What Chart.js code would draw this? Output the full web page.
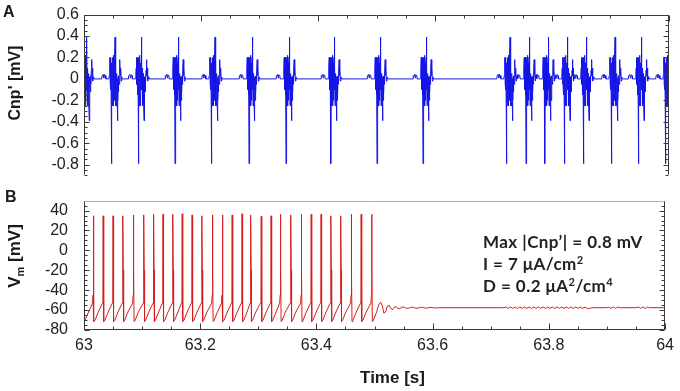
<!DOCTYPE html>
<html><head><meta charset="utf-8">
<script src="https://cdn.jsdelivr.net/npm/chart.js@4.4.0/dist/chart.umd.min.js"></script>
<style>
html,body{margin:0;padding:0;background:#fff;}
#wrap{position:relative;width:680px;height:391px;overflow:hidden;background:#fff;font-family:"Liberation Sans",Arial,sans-serif;color:#1a1a1a;}
canvas{position:absolute;left:0;}
#cA{top:0;width:680px;height:190px;}
#cB{top:175px;width:680px;height:216px;}
.lbl{position:absolute;font-weight:bold;white-space:nowrap;line-height:1;}
.rot{transform:translate(-50%,-50%) rotate(-90deg);}
#note{position:absolute;left:483px;top:231px;font-family:Lato,sans-serif;font-weight:bold;font-size:17px;line-height:22px;color:#222;white-space:nowrap;letter-spacing:0.45px;}
#note sup{font-size:11px;line-height:0;vertical-align:6px;}
</style></head><body>
<div id="wrap">
<canvas id="cA" width="680" height="190"></canvas>
<canvas id="cB" width="680" height="216"></canvas>
<div class="lbl" style="left:3px;top:4px;font-size:16px;">A</div>
<div class="lbl" style="left:5px;top:189px;font-size:16px;">B</div>
<div class="lbl rot" style="left:14.5px;top:82.5px;font-size:16px;">Cnp' [mV]</div>
<div class="lbl rot" style="left:14px;top:256px;font-size:17px;">V<span style="font-size:11px;position:relative;top:4px;">m</span> [mV]</div>
<div class="lbl" style="left:392.5px;top:377px;transform:translate(-50%,-50%);font-size:17px;">Time [s]</div>
<div id="note">Max |Cnp’| = 0.8 mV<br>I = 7 μA/cm<sup>2</sup><br>D = 0.2 μA<sup>2</sup>/cm<sup>4</sup></div>
</div>
<script>
// ---------------- data ----------------
const timeTicks = [63, 63.2, 63.4, 63.6, 63.8, 64];
const timeTickLabels = ['63', '63.2', '63.4', '63.6', '63.8', '64'];
const cnpTicks = [0.6, 0.4, 0.2, 0, -0.2, -0.4, -0.6, -0.8];
const vmTicks = [40, 20, 0, -20, -40, -60, -80];

// Panel A: time (s) of the large negative deflection of each Cnp' burst
const cnpBurstTimes = [62.9992, 63.0474, 63.0928, 63.1556, 63.2183, 63.2821, 63.3453, 63.4222, 63.5009, 63.5795,
  63.7226, 63.7556, 63.7880, 63.8210, 63.8535, 63.9021, 63.9475, 63.9944];
// one burst: offset (ms) from the negative deflection, value (mV)
const cnpBurstMs = [-17, -16.6, -14.5, -13.5, -12.5, -10.5, -10, -5, -4.2, -3.5,
  -3.0, -2.6, -2.2, -1.8, -1.4, -1.0, -0.6, -0.3, 0, 0.4,
  0.8, 1.2, 1.6, 2.0, 2.4, 2.8, 3.2, 3.6, 4.0, 4.4,
  4.8, 5.2, 5.7, 6.1, 6.5, 6.9, 7.3, 7.7, 8.1, 8.5,
  8.9, 9.3, 9.8, 10.2, 10.6, 11.0, 11.5, 12.0, 12.6, 13.3,
  14.0, 14.6, 15.3, 16.0, 17.0, 18.0];
const cnpBurstMv = [0, 0.03, 0.04, 0.01, 0.04, 0.03, 0, 0, 0.03, 0.1,
  0.2, -0.05, 0.18, -0.1, 0.2, -0.15, 0.15, -0.1, -0.79, 0.1,
  -0.2, 0.2, -0.25, 0.15, -0.22, 0.22, -0.25, 0.1, -0.2, 0.15,
  -0.1, 0.2, 0.39, -0.1, 0.1, -0.25, 0.05, -0.25, 0.05, -0.22,
  0.02, -0.2, -0.39, 0, -0.2, 0.02, -0.12, 0.03, -0.05, 0.08,
  0.18, 0.03, 0.1, -0.02, 0.02, 0];

// Panel B: membrane potential
const vmStartTime = 63.0, vmStartValue = -72;
const vmSpikeTimes = [63.016, 63.033, 63.050, 63.067, 63.085, 63.103, 63.120, 63.136, 63.153, 63.169,
  63.186, 63.203, 63.221, 63.238, 63.255, 63.272, 63.287, 63.305, 63.322, 63.338,
  63.356, 63.374, 63.391, 63.408, 63.425, 63.442, 63.460, 63.477, 63.495];
const vmSpikePeaks = [34.7, 34.7, 34.7, 34.7, 35.6, 35.6, 36.2, 36.2, 36.2, 36.7,
  35.6, 34.7, 35.6, 35.6, 35.6, 36.7, 35.6, 34.2, 34.7, 36.2,
  35.6, 36.2, 36.2, 36.2, 34.7, 34.7, 36.2, 36.2, 36.2];
// shape around each spike: before the peak and after it (ms offset, mV)
const vmPreMs = [-1.2, -0.5], vmPreMv = [-53, -45];
const vmPostMs = [0.6, 1.2, 2.8, 8.5], vmPostMv = [-20, -71.5, -70.5, -62];
// damped oscillation after the last spike
const vmTailT = [63.507, 63.5105, 63.5135, 63.516, 63.519, 63.522, 63.525, 63.528, 63.531, 63.534,
  63.537, 63.540, 63.543, 63.547, 63.551, 63.555, 63.559, 63.563, 63.567, 63.571,
  63.575, 63.579, 63.583, 63.587, 63.591, 63.595, 63.599, 63.603, 63.607, 63.611];
const vmTailV = [-55, -52, -56, -63, -62, -56, -55, -58.5, -59.5, -57,
  -56.6, -58.3, -58.6, -57.0, -57.1, -58.2, -58.1, -57.1, -57.2, -58.1,
  -58.0, -57.2, -57.3, -58.0, -57.9, -57.3, -57.4, -57.9, -57.8, -57.6];
// small ripples on the resting level
const vmRippleT = [63.7226, 63.726, 63.730, 63.734, 63.738, 63.742, 63.746, 63.750, 63.754, 63.758,
  63.762, 63.766, 63.770, 63.774, 63.778, 63.782, 63.786, 63.790, 63.794, 63.798,
  63.802, 63.806, 63.810, 63.814, 63.818, 63.822, 63.826, 63.830, 63.834, 63.838,
  63.842, 63.846, 63.850, 63.854, 63.858, 63.862, 63.866, 63.870, 63.874, 63.8764,
  63.899, 63.903, 63.907, 63.911, 63.915, 63.919, 63.922,
  63.950, 63.954, 63.958, 63.962, 63.966, 63.970, 63.973, 64.0];
const vmRippleV = [-57.6, -56.9, -58.3, -56.9, -58.3, -56.9, -58.3, -56.9, -58.3, -56.9,
  -58.3, -56.9, -58.3, -56.9, -58.3, -56.9, -58.3, -56.9, -58.3, -56.9,
  -58.3, -56.9, -58.3, -56.9, -58.3, -56.9, -58.3, -56.9, -58.3, -56.9,
  -58.3, -56.9, -58.3, -56.9, -58.3, -56.9, -58.3, -58.3, -57.6, -57.6,
  -57.6, -56.9, -58.3, -56.9, -58.3, -56.9, -57.6,
  -57.6, -56.9, -58.3, -56.9, -58.3, -56.9, -57.6, -57.6];

// ---------------- build point lists ----------------
const cnpPoints = [];
cnpBurstTimes.forEach(t0 => cnpBurstMs.forEach((ms, i) => cnpPoints.push({x: t0 + ms / 1000, y: cnpBurstMv[i]})));
cnpPoints.sort((a, b) => a.x - b.x);

const vmPoints = [{x: vmStartTime, y: vmStartValue}];
vmSpikeTimes.forEach((t0, i) => {
  vmPreMs.forEach((ms, j) => vmPoints.push({x: t0 + ms / 1000, y: vmPreMv[j]}));
  vmPoints.push({x: t0, y: vmSpikePeaks[i]});
  vmPostMs.forEach((ms, j) => vmPoints.push({x: t0 + ms / 1000, y: vmPostMv[j]}));
});
vmTailT.forEach((t, i) => vmPoints.push({x: t, y: vmTailV[i]}));
vmRippleT.forEach((t, i) => vmPoints.push({x: t, y: vmRippleV[i]}));
vmPoints.sort((a, b) => a.x - b.x);

// ---------------- drawing ----------------
const FRAME = '#3a3a3a', SEP = '#b0b0b0';
const frameTicks = {
  id: 'frameTicks',
  afterDatasetsDraw(chart, args, o) {
    const ctx = chart.ctx, a = chart.chartArea, xs = chart.scales.x, ys = chart.scales.y;
    const L = Math.round(a.left) + 0.5, R = Math.round(a.right) - 0.5;
    const T = Math.round(a.top) + 0.5, B = Math.round(a.bottom) - 0.5;
    ctx.save();
    ctx.lineWidth = 1;
    const seg = (x1, y1, x2, y2, c) => { ctx.strokeStyle = c; ctx.beginPath(); ctx.moveTo(x1, y1); ctx.lineTo(x2, y2); ctx.stroke(); };
    const isMult = (v, s) => Math.abs(v / s - Math.round(v / s)) < 1e-6;
    const edge = o.xEdge === 'top' ? T : B, dir = o.xEdge === 'top' ? 1 : -1;
    for (let i = 0; ; i++) {
      const v = xs.min + i * o.xMinor;
      if (v > xs.max + 1e-9) break;
      const p = Math.round(xs.getPixelForValue(v)) + 0.5;
      const major = isMult(v - xs.min, o.xMajor);
      seg(p, edge, p, edge + dir * (major ? 6 : 3), FRAME);
    }
    for (let i = 0; ; i++) {
      const v = o.yFrom + i * o.yMinor;
      if (v > ys.max + 1e-9) break;
      const p = Math.round(ys.getPixelForValue(v)) + 0.5;
      const len = isMult(v, o.yMajor) ? 5 : 3;
      seg(L, p, L + len, p, FRAME);
      seg(R, p, R - len, p, FRAME);
    }
    if (o.topColor) seg(L - 0.5, T, R + 0.5, T, o.topColor);
    if (o.bottomColor) seg(L - 0.5, B, R + 0.5, B, o.bottomColor);
    seg(L, T, L, B, FRAME);
    seg(R, T, R, B, FRAME);
    ctx.restore();
  }
};

const tickFont = {family: "'Liberation Sans', Arial, sans-serif", size: 16};
const baseOpts = {
  responsive: false, animation: false, devicePixelRatio: 1, events: [],
  parsing: false, normalized: true
};

new Chart(document.getElementById('cA'), {
  type: 'line',
  data: {datasets: [{data: cnpPoints, borderColor: '#1515e6', borderWidth: 1, pointRadius: 0, tension: 0, borderJoinStyle: 'bevel'}]},
  options: Object.assign({}, baseOpts, {
    layout: {padding: {left: 0, right: 11, top: 11, bottom: 7}},
    plugins: {legend: {display: false}, tooltip: {enabled: false},
      frameTicks: {xEdge: 'top', xMinor: 0.05, xMajor: 0.2, yFrom: -0.9, yMinor: 0.05, yMajor: 0.2, topColor: FRAME, bottomColor: null}},
    scales: {
      x: {type: 'linear', min: 63, max: 64, display: false},
      y: {type: 'linear', min: -0.9, max: 0.6,
        afterFit: s => { s.width = 84; },
        afterBuildTicks: s => { s.ticks = cnpTicks.map(v => ({value: v})); },
        grid: {display: false, drawTicks: false}, border: {display: false},
        ticks: {padding: 5, color: '#222', font: tickFont, autoSkip: false, callback: v => String(v)}}
    }
  }),
  plugins: [frameTicks]
});

new Chart(document.getElementById('cB'), {
  type: 'line',
  data: {datasets: [{data: vmPoints, borderColor: '#d61e1e', borderWidth: 1, pointRadius: 0, tension: 0, borderJoinStyle: 'bevel'}]},
  options: Object.assign({}, baseOpts, {
    layout: {padding: {left: 0, right: 11, top: 8, bottom: 0}},
    plugins: {legend: {display: false}, tooltip: {enabled: false},
      frameTicks: {xEdge: 'bottom', xMinor: 0.05, xMajor: 0.2, yFrom: -80, yMinor: 5, yMajor: 20, topColor: SEP, bottomColor: FRAME}},
    scales: {
      x: {type: 'linear', min: 63, max: 64,
        afterFit: s => { s.height = 61; },
        afterBuildTicks: s => { s.ticks = timeTicks.map(v => ({value: v})); },
        grid: {display: false, drawTicks: false}, border: {display: false},
        ticks: {padding: 6, color: '#222', font: tickFont, maxRotation: 0, autoSkip: false,
          callback: (v, i) => timeTickLabels[i]}},
      y: {type: 'linear', min: -80, max: 50,
        afterFit: s => { s.width = 84; },
        afterBuildTicks: s => { s.ticks = vmTicks.map(v => ({value: v})); },
        grid: {display: false, drawTicks: false}, border: {display: false},
        ticks: {padding: 16, color: '#222', font: tickFont, autoSkip: false, callback: v => String(v)}}
    }
  }),
  plugins: [frameTicks]
});
</script>
</body></html>
